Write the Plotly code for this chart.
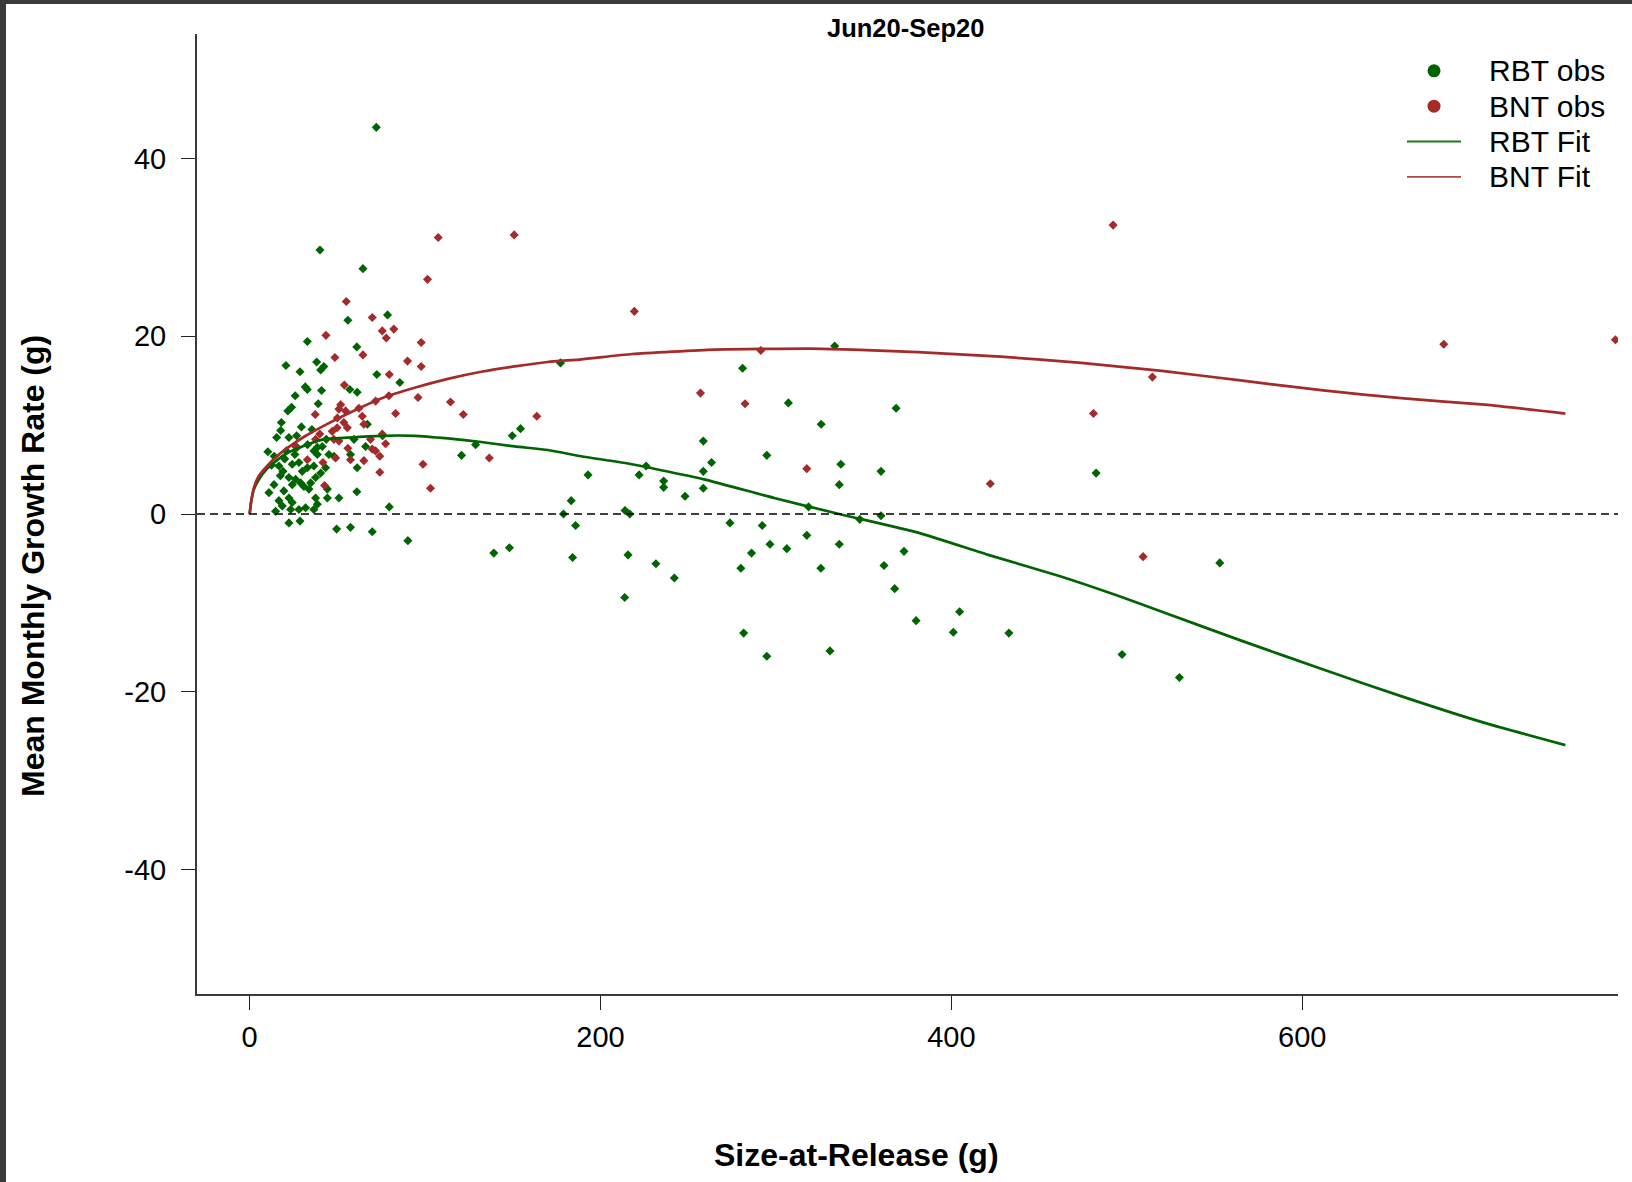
import plotly.graph_objects as go

# ---------------- data ----------------
rbt_size = [72.2, 40.1, 64.6, 78.6, 56.0, 32.9, 61.1, 20.7, 28.7, 38.2, 42.3, 40.5, 72.5, 85.6, 31.7,
            32.9, 41.0, 57.1, 61.3, 26.0, 23.9, 21.8, 39.1, 18.1, 17.7, 15.4, 22.4, 26.8, 67.1, 10.4,
            43.7, 59.5, 66.1, 75.8, 48.1, 57.5, 61.3, 38.6, 36.7, 50.9, 61.1, 79.6, 49.6, 57.5, 69.9,
            90.2, 22.4, 28.7, 139.2, 148.1, 120.8, 128.8, 149.7, 154.4, 177.2,
            20.9, 25.8, 16.7, 19.0, 17.5, 24.3, 28.1, 30.0, 32.9, 22.4, 26.2, 24.3, 29.1, 30.9, 34.8,
            33.8, 37.6, 36.6, 40.5, 38.6, 43.3, 11.0, 13.9, 16.7, 18.6, 14.8, 22.4, 24.3, 23.4, 28.1,
            31.9, 37.6, 38.6, 36.6, 44.3, 44.3, 41.4, 45.2, 20.0, 27.0, 33.0, 12.5, 14.0, 19.5, 35.5, 29.5,
            333.5, 281.0, 307.1, 368.5, 325.8, 258.6, 294.8, 337.0, 336.1, 359.9, 192.9, 222.0, 226.0,
            236.0, 236.0, 258.6, 263.3, 258.6, 248.2, 183.3, 178.9, 214.0, 216.7, 185.8, 273.8, 292.2,
            318.6, 347.8, 359.9, 317.6, 296.6, 306.2, 286.1, 336.1, 373.0, 184.1, 215.7, 231.6, 242.1,
            280.0, 325.6, 361.6, 367.7, 213.8, 379.9, 404.7, 401.1, 432.8, 281.6, 294.8, 330.8, 482.5,
            497.3, 530.0, 553.0]
rbt_growth = [43.5, 29.7, 27.6, 22.4, 21.8, 19.4, 18.8, 16.7, 16.0, 17.1, 16.6, 16.2, 15.7, 14.8, 14.3,
              14.0, 13.9, 14.0, 13.7, 13.3, 12.0, 11.6, 12.4, 10.3, 9.4, 8.6, 8.6, 8.8, 10.1, 7.0,
              8.4, 8.4, 7.6, 8.8, 6.5, 6.7, 5.2, 7.5, 7.1, 1.8, 2.5, 0.8, -1.7, -1.5, -2.0,
              -3.0, -1.0, -0.8, -4.4, -3.8, 6.6, 7.8, 8.8, 9.6, 17.0,
              7.1, 6.7, 5.4, 4.8, 4.3, 5.6, 5.8, 4.8, 5.2, 4.1, 3.9, 3.3, 3.5, 3.1, 3.5,
              2.8, 4.1, 5.4, 4.6, 6.7, 5.2, 2.4, 3.3, 1.5, 0.9, 0.3, 1.8, 1.3, 0.5, 0.5,
              0.7, 1.8, 1.1, 0.5, 2.8, 1.8, 7.6, 6.7, 6.2, 7.5, 7.8, 5.5, 6.5, 2.6, 9.5, 9.8,
              18.9, 16.4, 12.5, 11.9, 10.1, 8.2, 6.6, 5.6, 3.3, 4.8, 4.4, 4.4, 5.4,
              3.7, 3.0, 4.8, 5.8, 2.9, 2.0, 1.5, 0.0, 0.4, 0.0, -1.3, -1.0, -1.3,
              0.8, -0.6, -0.2, -2.4, -3.4, -3.9, -4.4, -3.4, -4.2, -4.9, -4.6, -5.6, -7.2,
              -6.1, -6.1, -5.8, -8.4, -9.4, -12.0, -11.0, -13.3, -13.4, -13.4, -16.0, -15.4, 4.6,
              -15.8, -18.4, -5.5]

bnt_size = [107.5, 150.8, 101.4, 55.1, 69.9, 75.6, 77.9, 82.2, 97.8, 43.5, 48.6, 64.6, 90.0, 97.8,
            79.6, 54.0, 96.0, 114.5, 121.8, 163.7, 83.2, 37.4, 51.9, 50.9, 54.7, 50.0, 53.7, 55.7,
            62.3, 64.2, 65.1, 71.8, 79.4, 47.1, 48.0, 50.9, 49.0, 56.0, 57.5, 65.1, 75.6, 77.5,
            68.9, 69.9, 71.8, 74.2, 74.2, 98.8, 103.1, 136.6, 42.7, 41.8, 32.9, 26.2, 37.6, 40.0,
            49.9, 219.3, 257.0, 282.4, 291.4, 317.6, 422.2, 481.0, 492.2, 514.6, 509.3, 680.7, 778.5]
bnt_growth = [31.1, 31.4, 26.4, 23.9, 22.1, 20.6, 19.8, 20.8, 19.3, 20.1, 17.6, 17.9, 17.2, 16.6,
              15.7, 14.5, 13.1, 12.6, 11.2, 11.0, 11.3, 11.2, 12.3, 11.8, 11.6, 10.8, 10.3, 9.7,
              11.9, 11.0, 10.1, 12.7, 13.3, 9.3, 8.4, 8.2, 6.3, 7.4, 6.1, 6.0, 9.0, 7.9,
              8.4, 7.3, 7.1, 6.5, 4.7, 5.6, 2.9, 6.3, 3.2, 5.8, 6.1, 7.6, 8.4, 9.0,
              9.7, 22.8, 13.6, 12.4, 18.4, 5.1, 3.4, 11.3, 32.5, 15.4, -4.8, 19.1, 19.6]

rbt_fit_size = [0, 1, 2.5, 5, 10, 20, 30, 42, 56, 75, 94, 113, 132, 151, 170, 189, 218, 259, 299,
                336, 381, 421, 462, 495, 520, 566, 612, 658, 704, 750]
rbt_fit_growth = [0, 1.5, 2.8, 3.8, 5.1, 6.7, 7.6, 8.4, 8.6, 8.8, 8.8, 8.5, 8.1, 7.6, 7.2, 6.5, 5.6,
                  3.9, 1.8, 0.0, -2.1, -4.6, -7.0, -9.2, -11.0, -14.3, -17.5, -20.6, -23.5, -26.0]

bnt_fit_size = [0, 1, 2.5, 5, 10, 15, 22, 32, 43, 55, 75, 94, 113, 132, 151, 170, 189, 218, 265,
                320, 344, 381, 428, 474, 520, 566, 612, 658, 704, 750]
bnt_fit_growth = [0, 1.6, 3.0, 4.2, 5.4, 6.4, 7.5, 8.8, 10.0, 11.2, 13.0, 14.2, 15.2, 16.0, 16.6,
                  17.1, 17.4, 18.0, 18.5, 18.6, 18.5, 18.2, 17.7, 17.0, 16.1, 15.0, 13.9, 13.0,
                  12.3, 11.3]

x_ticks = [0, 200, 400, 600]
x_tick_labels = ["0", "200", "400", "600"]
y_ticks = [-40, -20, 0, 20, 40]
y_tick_labels = ["-40", "-20", "0", "20", "40"]

title_text = "Jun20-Sep20"
x_title = "Size-at-Release (g)"
y_title = "Mean Monthly Growth Rate (g)"
legend_labels = ["RBT obs", "BNT obs", "RBT Fit", "BNT Fit"]

# ---------------- layout geometry ----------------
FONT = "Liberation Sans, Arial, Helvetica, sans-serif"
GREEN = "#006400"
RED = "#A52A2A"
W, H = 1632, 1182
ML, MR, MT, MB = 197, 14, 34, 188
PW = W - ML - MR
PH = H - MT - MB


def px_x(px):
    return (px - ML) / PW


def px_y(py):
    return (H - MB - py) / PH


fig = go.Figure()

# observations
fig.add_trace(go.Scatter(x=rbt_size, y=rbt_growth, mode="markers", name=legend_labels[0],
                         marker=dict(symbol="diamond", size=7, color=GREEN, line=dict(width=0))))
fig.add_trace(go.Scatter(x=bnt_size, y=bnt_growth, mode="markers", name=legend_labels[1],
                         marker=dict(symbol="diamond", size=7, color=RED, line=dict(width=0))))
# fits
fig.add_trace(go.Scatter(x=rbt_fit_size, y=rbt_fit_growth, mode="lines", name=legend_labels[2],
                         line=dict(color=GREEN, width=2.7, shape="spline", smoothing=0.5)))
fig.add_trace(go.Scatter(x=bnt_fit_size, y=bnt_fit_growth, mode="lines", name=legend_labels[3],
                         line=dict(color=RED, width=2.7, shape="spline", smoothing=0.5)))

# dashed zero line
fig.add_shape(type="line", xref="paper", yref="y", x0=0, x1=1, y0=0, y1=0,
              line=dict(color="black", width=1.6, dash="8px,5px"), layer="above")

# dark screenshot border (top and left)
fig.add_shape(type="rect", xref="paper", yref="paper", x0=px_x(0), x1=px_x(W), y0=px_y(4), y1=px_y(0),
              line=dict(width=0), fillcolor="#3a3a3a", layer="above")
fig.add_shape(type="rect", xref="paper", yref="paper", x0=px_x(0), x1=px_x(6), y0=px_y(H), y1=px_y(0),
              line=dict(width=0), fillcolor="#3a3a3a", layer="above")

# legend (drawn like the R legend: round symbols for points, thin lines for fits)
leg_rows = [70.8, 106.2, 141.5, 176.9]
leg_sym_x = 1434
leg_text_x = 1487
for i, (lab, col) in enumerate(zip(legend_labels, [GREEN, RED, "#1a7a1a", "#b04848"])):
    yc = px_y(leg_rows[i])
    if i < 2:
        fig.add_shape(type="circle", xref="paper", yref="paper",
                      xsizemode="pixel", ysizemode="pixel",
                      xanchor=px_x(leg_sym_x), yanchor=yc, x0=-6.5, x1=6.5, y0=-6.5, y1=6.5,
                      fillcolor=col, line=dict(width=0))
    else:
        fig.add_shape(type="line", xref="paper", yref="paper",
                      x0=px_x(1407), x1=px_x(1461), y0=yc, y1=yc,
                      line=dict(color=col, width=1.8))
    fig.add_annotation(text=lab, xref="paper", yref="paper", x=px_x(leg_text_x), y=yc,
                       xanchor="left", yanchor="middle", showarrow=False,
                       font=dict(size=30, family=FONT, color="black"))

# titles
fig.add_annotation(text=f"<b>{title_text}</b>", xref="paper", yref="paper", x=px_x(905.5), y=px_y(28),
                   xanchor="center", yanchor="middle", showarrow=False, font=dict(size=25.5, family=FONT))
fig.add_annotation(text=f"<b>{x_title}</b>", xref="paper", yref="paper", x=px_x(856), y=px_y(1155),
                   xanchor="center", yanchor="middle", showarrow=False, font=dict(size=32, family=FONT))
fig.add_annotation(text=f"<b>{y_title}</b>", xref="paper", yref="paper", x=px_x(33), y=px_y(566),
                   xanchor="center", yanchor="middle", showarrow=False, textangle=-90,
                   font=dict(size=32, family=FONT))

axis_common = dict(showgrid=False, zeroline=False, showline=True, linecolor="#3a3a3a", linewidth=2,
                   ticks="outside", ticklen=14, tickwidth=1.3, tickcolor="#222222",
                   tickfont=dict(size=29, family=FONT, color="black"))

fig.update_layout(
    width=W, height=H,
    margin=dict(l=ML, r=MR, t=MT, b=MB, autoexpand=False),
    paper_bgcolor="white", plot_bgcolor="white",
    font=dict(family=FONT, size=29, color="black"),
    showlegend=False,
    xaxis=dict(range=[-30, 780], tickvals=x_ticks, ticktext=x_tick_labels, ticklabelstandoff=2,
               **axis_common),
    yaxis=dict(range=[-54, 54], tickvals=y_ticks, ticktext=y_tick_labels, ticklabelstandoff=9,
               **axis_common),
)

fig.write_html("out.html")
